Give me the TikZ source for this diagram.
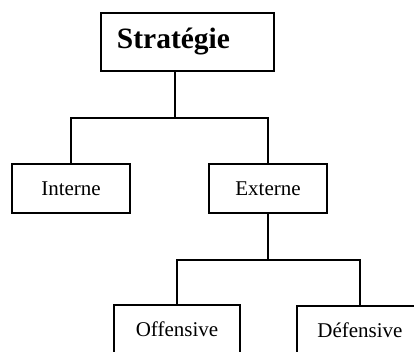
\documentclass[tikz,border=0pt]{standalone}
\usepackage{fontspec}
\setmainfont{Liberation Serif}
\begin{document}
\begin{tikzpicture}[x=0.5pt,y=-0.5pt,line width=0.9pt,
  box/.style={rectangle,draw=black,line width=0.9pt,minimum width=59pt,minimum height=24.5pt,inner sep=0pt,font=\fontsize{10.5}{12}\selectfont},
  leaf/.style={box,minimum width=63pt}]
\clip (0,0) rectangle (414,352);
\node[box,minimum width=86.5pt,minimum height=29pt,font=\fontsize{14.75}{17}\selectfont\bfseries] (strat) at (187.5,42) {Stratégie\kern14pt};
\node[box] (interne) at (71,188.5) {Interne};
\node[box] (externe) at (268,188.5) {Externe};
\node[leaf] (offensive) at (177,329.5) {Offensive};
\node[leaf] (defensive) at (360,330.5) {Défensive};
\coordinate (fork1) at (174.7,118);
\coordinate (fork2) at (268,260);
\draw (strat.south -| fork1)--(fork1);
\draw (interne.north) |- (fork1) -| (externe.north);
\draw (externe.south)--(fork2);
\draw (offensive.north) |- (fork2) -| (defensive.north);
\end{tikzpicture}
\end{document}
